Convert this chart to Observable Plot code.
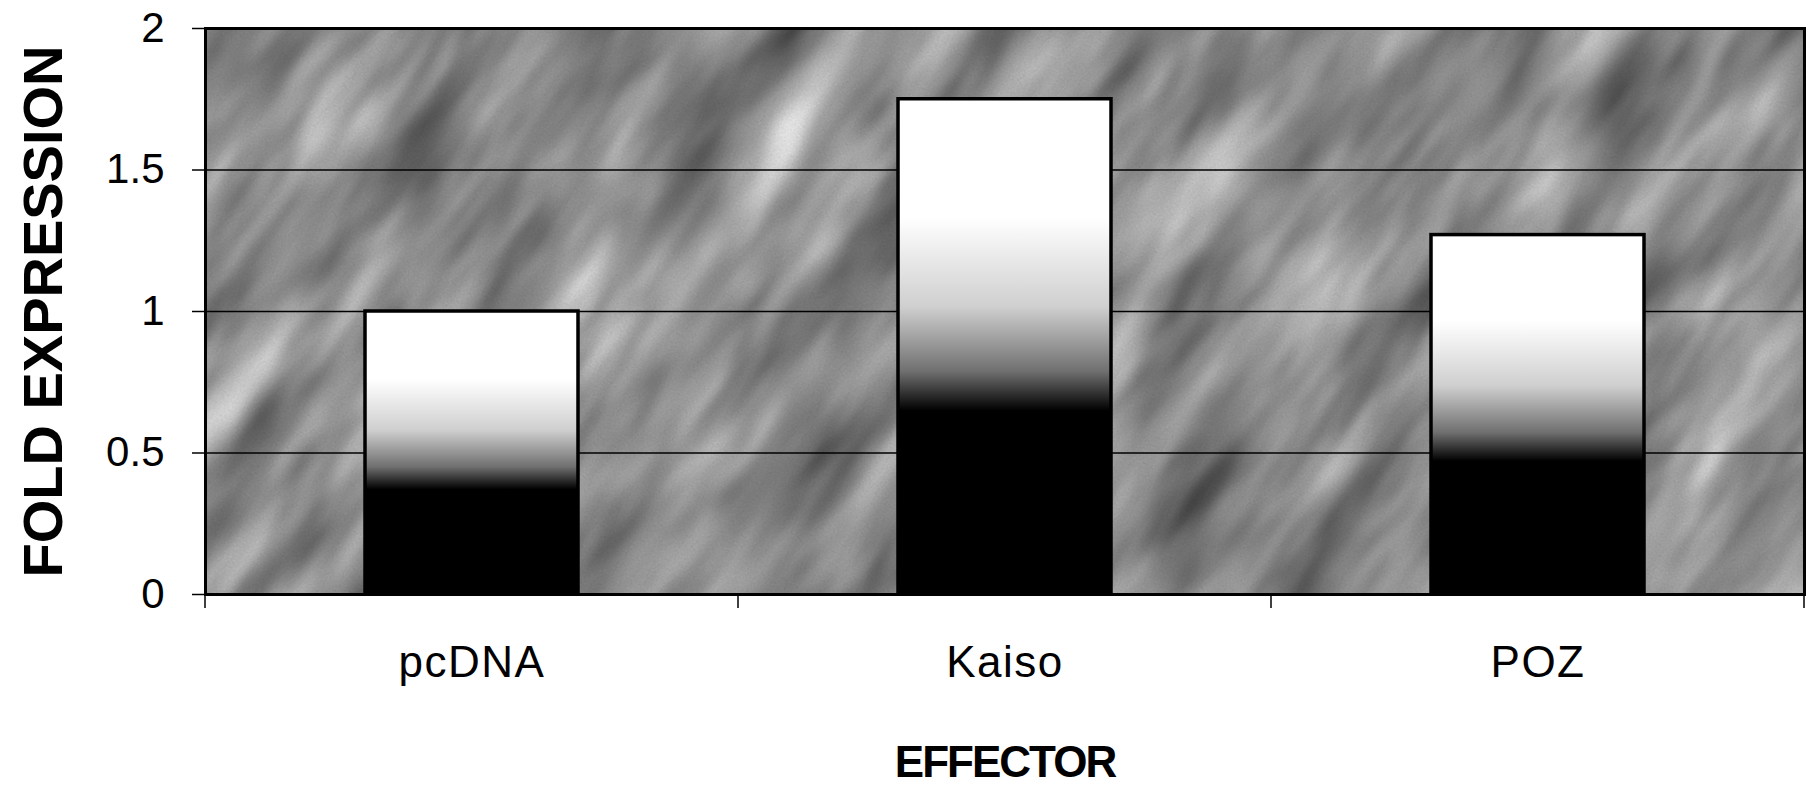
<!DOCTYPE html>
<html>
<head>
<meta charset="utf-8">
<script src="https://cdn.jsdelivr.net/npm/d3@7"></script>
<script src="https://cdn.jsdelivr.net/npm/@observablehq/plot@0.6"></script>
<style>
  html, body { margin: 0; padding: 0; background: white; }
  #chart { width: 1811px; height: 797px; }
</style>
</head>
<body>
<svg width="0" height="0" style="position:absolute">
  <defs>
    <filter id="noise" x="0" y="0" width="1" height="1" color-interpolation-filters="sRGB">
      <feTurbulence type="fractalNoise" baseFrequency="0.016 0.005" numOctaves="3" seed="7" result="t"/>
      <feColorMatrix in="t" type="matrix" values="0.5 0.5 0 0 0  0.5 0.5 0 0 0  0.5 0.5 0 0 0  0 0 0 0 1" result="g"/>
      <feComponentTransfer in="g" result="c">
        <feFuncR type="linear" slope="1.1" intercept="0.05"/>
        <feFuncG type="linear" slope="1.1" intercept="0.05"/>
        <feFuncB type="linear" slope="1.1" intercept="0.05"/>
      </feComponentTransfer>
      <feTurbulence type="fractalNoise" baseFrequency="0.9" numOctaves="1" seed="2" result="grain"/>
      <feColorMatrix in="grain" type="matrix" values="0.33 0.33 0.33 0 0  0.33 0.33 0.33 0 0  0.33 0.33 0.33 0 0  0 0 0 0 0.5" result="grainG"/>
      <feBlend in="grainG" in2="c" mode="multiply" result="m"/>
      <feComponentTransfer in="m">
        <feFuncR type="linear" slope="1.22" intercept="0.0"/>
        <feFuncG type="linear" slope="1.22" intercept="0.0"/>
        <feFuncB type="linear" slope="1.22" intercept="0.0"/>
      </feComponentTransfer>
    </filter>
    <pattern id="tex" patternUnits="userSpaceOnUse" x="0" y="0" width="1811" height="797">
      <g transform="rotate(35 905 400)">
        <rect x="-700" y="-800" width="3200" height="2400" fill="#999" filter="url(#noise)"/>
      </g>
    </pattern>
    <linearGradient id="barGrad" x1="0" y1="0" x2="0" y2="1">
      <stop offset="0" stop-color="#ffffff"/>
      <stop offset="0.24" stop-color="#ffffff"/>
      <stop offset="0.42" stop-color="#cfcfcf"/>
      <stop offset="0.55" stop-color="#707070"/>
      <stop offset="0.63" stop-color="#000000"/>
      <stop offset="1" stop-color="#000000"/>
    </linearGradient>
  </defs>
</svg>
<div id="chart"></div>
<script>
const categories = ["pcDNA", "Kaiso", "POZ"];
const values = [1.0, 1.75, 1.27];
const yTicks = [0, 0.5, 1, 1.5, 2];
const yTickLabels = ["0", "0.5", "1", "1.5", "2"];
const yTitle = "FOLD EXPRESSION";
const xTitle = "EFFECTOR";

const data = categories.map((c, i) => ({cat: c, value: values[i]}));

const plot = Plot.plot({
  width: 1811,
  height: 797,
  marginLeft: 205,
  marginRight: 7,
  marginTop: 28,
  marginBottom: 203,
  style: {fontFamily: "'Liberation Sans', Arial, sans-serif", fontSize: "42px", color: "black", background: "white", overflow: "visible"},
  x: {domain: categories, paddingInner: 0.6, paddingOuter: 0.3, label: null},
  y: {domain: [0, 2], label: null},
  marks: [
    Plot.frame({fill: "url(#tex)"}),
    Plot.gridY(yTicks.filter(d => d > 0 && d < 2), {stroke: "black", strokeOpacity: 1, strokeWidth: 1.5}),
    Plot.barY(data, {x: "cat", y: "value", fill: "url(#barGrad)", stroke: "black", strokeWidth: 3.5}),
    Plot.frame({stroke: "black", strokeWidth: 3}),
    Plot.axisY({ticks: yTicks, tickFormat: (d) => yTickLabels[yTicks.indexOf(d)], tickSize: 13, tickPadding: 28, strokeWidth: 1.5, fontSize: 42}),
    Plot.axisX({tickSize: 0, tickPadding: 51, fontSize: 44}),
    Plot.text([yTitle], {frameAnchor: "left", textAnchor: "middle", dx: -161, rotate: -90, fontSize: 56, fontWeight: "bold", fill: "black"}),
    Plot.text([xTitle], {frameAnchor: "bottom", dy: 182, fontSize: 44, fontWeight: "bold", fill: "black"})
  ]
});

document.getElementById("chart").appendChild(plot);

// letter spacing tweaks (style only)
d3.select(plot).selectAll('g[aria-label="x-axis tick label"] text').style("letter-spacing", "1.5px");
d3.select(plot).selectAll('g[aria-label="text"] text').filter(function() { return this.textContent === xTitle; }).style("letter-spacing", "-2px");

// category boundary ticks on the x axis, positioned via the plot's x scale
const sx = plot.scale("x");
const sy = plot.scale("y");
const y0 = sy.apply(0);
const b0 = sx.apply(categories[0]) - (sx.step - sx.bandwidth) / 2;
const bounds = d3.range(categories.length + 1).map(i => b0 + i * sx.step);
d3.select(plot).append("g")
  .selectAll("line")
  .data(bounds)
  .join("line")
  .attr("x1", d => d).attr("x2", d => d)
  .attr("y1", y0).attr("y2", y0 + 14)
  .attr("stroke", "black").attr("stroke-width", 1.5);
</script>
</body>
</html>
